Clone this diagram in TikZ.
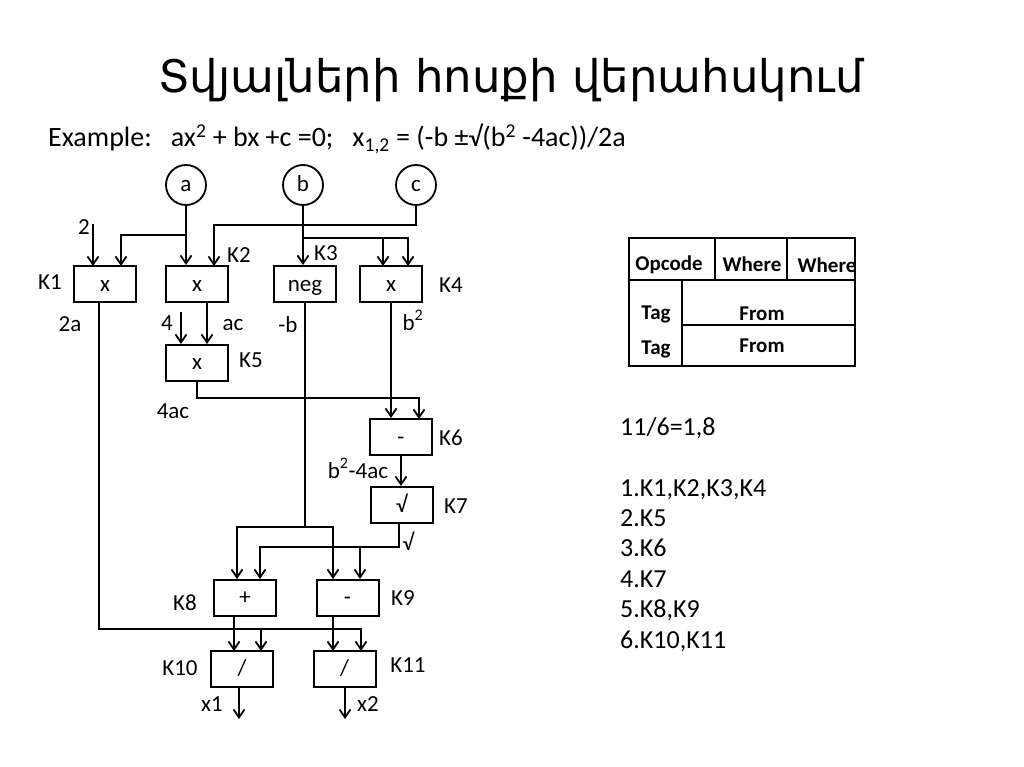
\documentclass[tikz,border=0pt]{standalone}
\usepackage{fontspec}
\setmainfont{Carlito}
\newfontfamily\armfont{DejaVu Sans}
\usetikzlibrary{arrows.meta}
\begin{document}
\begin{tikzpicture}[x=1pt,y=-1pt,font=\fontsize{23}{27}\selectfont,
  opbox/.style={draw,line width=2pt,minimum width=62pt,minimum height=36pt,inner sep=0pt,text height=14pt,text depth=0pt},
  inp/.style={draw,circle,line width=1.8pt,minimum size=40pt,inner sep=0pt,text height=14pt,text depth=0pt},
  ln/.style={line width=1.8pt},
  arr/.style={line width=1.8pt,-{Straight Barb[length=8pt,width=11pt,line width=1.8pt]}},
  lbl/.style={inner sep=0pt,text height=14pt,text depth=0pt},
  lst/.style={inner sep=0pt,text height=16pt,text depth=0pt,anchor=west,font=\fontsize{26}{30}\selectfont},
  tbl/.style={font=\fontsize{21}{25}\selectfont\bfseries,inner sep=0pt,text height=13pt,text depth=0pt}]
\useasboundingbox (0,0) rectangle (1024,767);
% title
\node[inner sep=0pt] (title) at (511,80) {\armfont\fontsize{45}{54}\selectfont Տվյալների հոսքի վերահսկում};
\node[inner sep=0pt,text height=18pt,text depth=0pt,anchor=west] (ex) at (48,138) {\fontsize{28}{32}\selectfont Example:\ \ \ ax\textsuperscript{2} + bx +c =0;\ \ \ x\textsubscript{1,2} = (-b ±√(b\textsuperscript{2} -4ac))/2a};
% inputs
\node[inp] (a) at (186,185) {a};
\node[inp] (b) at (303,185) {b};
\node[inp] (c) at (416,185) {c};
% boxes
\node[opbox] (K1) at (105,284) {x};
\node[opbox] (K2) at (197,284) {x};
\node[opbox] (K3) at (305,284) {neg};
\node[opbox] (K4) at (391,284) {x};
\node[opbox] (K5) at (197,362.5) {x};
\node[opbox] (K6) at (401,437) {-};
\node[opbox] (K7) at (401.5,505) {√};
\node[opbox] (K8) at (245,597.5) {+};
\node[opbox] (K9) at (347.5,597.5) {-};
\node[opbox] (K10) at (242,668.5) {/};
\node[opbox] (K11) at (344.5,668.5) {/};
% box labels
\node[lbl] (lK1) at (50,282) {K1};
\node[lbl] (lK2) at (239,255) {K2};
\node[lbl] (lK3) at (326,253) {K3};
\node[lbl] (lK4) at (451,285) {K4};
\node[lbl] (lK5) at (251,360) {K5};
\node[lbl] (lK6) at (451,438) {K6};
\node[lbl] (lK7) at (456,506) {K7};
\node[lbl] (lK8) at (185,603) {K8};
\node[lbl] (lK9) at (403,598) {K9};
\node[lbl] (lK10) at (180,668) {K10};
\node[lbl] (lK11) at (408,665) {K11};
% value labels
\node[lbl] (two) at (84,228) {2};
\node[lbl] (l2a) at (70,324) {2a};
\node[lbl] (four) at (167,323) {4};
\node[lbl] (lac) at (233,323) {ac};
\node[lbl] (lnb) at (288,325) {-b};
\node[lbl] (lb2) at (413,323) {b\textsuperscript{2}};
\node[lbl] (l4ac) at (173,411) {4ac};
\node[lbl] (lb24ac) at (358,471) {b\textsuperscript{2}-4ac};
\node[lbl] (lsq) at (408,543) {√};
\node[lbl] (lx1) at (212,704) {x1};
\node[lbl] (lx2) at (368,704) {x2};
% ports
\coordinate (K1in1) at (93,266);
\coordinate (K1in2) at (121,266);
\coordinate (K2in2) at (214,266);
\coordinate (K4in1) at (383,266);
\coordinate (K4in2) at (408,266);
\coordinate (K5in1) at (181,344);
\coordinate (K5in2) at (207,344);
\coordinate (K6in2) at (419,419);
\coordinate (K8in1) at (237,579);
\coordinate (K8in2) at (260,579);
\coordinate (K9in1) at (333,579);
\coordinate (K9in2) at (360,579);
\coordinate (K10in1) at (234,651);
\coordinate (K10in2) at (261,651);
\coordinate (K11in1) at (333,651);
\coordinate (K11in2) at (361,651);
% junctions
\coordinate (twos) at (93,224);
\coordinate (fours) at (181,312);
\coordinate (ajn) at (186,235);
\coordinate (cturn) at (214,225);
\coordinate (bjn) at (303,238);
\coordinate (k5r) at (419,398);
\coordinate (negj) at (305,527);
\coordinate (sqL) at (260,547);
\coordinate (r2a) at (361,629);
\coordinate (x1end) at (239,719);
\coordinate (x2end) at (345,719);
% connectors
\draw[arr] (twos) -- (K1in1);
\draw[arr] (a.south) -- (a.south |- K2.north);
\draw[arr] (ajn) -| (K1in2);
\draw[arr] (c.south) |- (cturn) -- (K2in2);
\draw[arr] (b.south) -- (b.south |- K3.north);
\draw[arr] (bjn) -| (K4in2);
\draw[arr] (bjn -| K4in1) -- (K4in1);
\draw[arr] (fours) -- (K5in1);
\draw[arr] (K2.south -| K5in2) -- (K5in2);
\draw[arr] (K4.south) -- (K4.south |- K6.north);
\draw[arr] (K5.south) |- (k5r) -- (K6in2);
\draw[arr] (K6.south) -- (K6.south |- K7.north);
\draw[ln] (K3.south) -- (negj);
\draw[arr] (negj) -| (K8in1);
\draw[arr] (negj) -| (K9in1);
\draw[arr] (K7.south -| 399,0) |- (sqL) -- (K8in2);
\draw[arr] (sqL -| K9in2) -- (K9in2);
\draw[arr] ([xshift=-6pt]K1.south) |- (r2a) -- (K11in2);
\draw[arr] (r2a -| K10in2) -- (K10in2);
\draw[arr] (K8.south -| K10in1) -- (K10in1);
\draw[arr] (K9.south -| K11in1) -- (K11in1);
\draw[arr] (K10.south -| x1end) -- (x1end);
\draw[arr] (K11.south -| x2end) -- (x2end);
% table
\draw[line width=1.6pt] (629,280) -- (855,280);
\draw[line width=1.6pt] (682,325) -- (855,325);
\draw[line width=1.6pt] (682,280) -- (682,366);
\draw[line width=1.6pt] (715,238) -- (715,280);
\draw[line width=1.6pt] (787,238) -- (787,280);
\draw[line width=2.6pt] (629,238) rectangle (855,366);
\node[tbl] (op) at (669,264) {Opcode};
\node[tbl] (w1) at (752,265) {Where};
\node[tbl] (w2) at (827,266) {Where};
\node[tbl] (t1) at (656,313) {Tag};
\node[tbl] (f1) at (762,314) {From};
\node[tbl] (t2) at (656,348) {Tag};
\node[tbl] (f2) at (762,346) {From};
% list
\node[lst] (ratio) at (620,427) {11/6=1,8};
\node[lst] (s1) at (620,488) {1.K1,K2,K3,K4};
\node[lst] (s2) at (620,518) {2.K5};
\node[lst] (s3) at (620,548) {3.K6};
\node[lst] (s4) at (620,579) {4.K7};
\node[lst] (s5) at (620,609) {5.K8,K9};
\node[lst] (s6) at (620,640) {6.K10,K11};
\end{tikzpicture}
\end{document}
